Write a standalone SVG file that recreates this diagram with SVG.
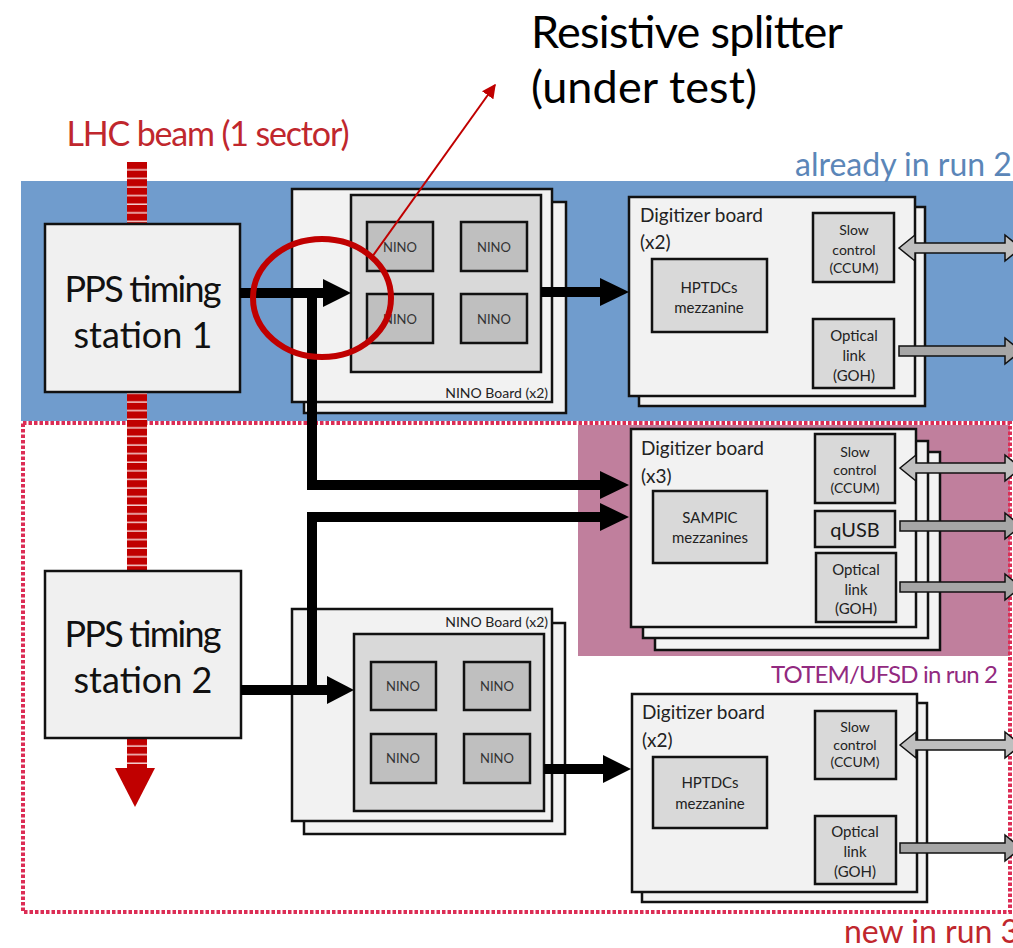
<svg xmlns="http://www.w3.org/2000/svg" width="1013" height="948" viewBox="0 0 1013 948">
  <style>
    text { font-family: Lato, "Open Sans", "Liberation Sans", sans-serif; fill: #1a1a1a; }
    .board { fill: #f2f2f2; stroke: #111; stroke-width: 2.5; }
    .sub { fill: #d9d9d9; stroke: #111; stroke-width: 2.5; }
    .chip { fill: #bfbfbf; stroke: #111; stroke-width: 2.5; }
    .station { fill: #f0f0f0; stroke: #111; stroke-width: 2.5; }
    .station-t { font-size: 36px; text-anchor: middle; fill: #111; }
    .nino-t { font-size: 13px; text-anchor: middle; fill: #333; }
    .nb-t { font-size: 14px; text-anchor: end; fill: #222; }
    .dig-t { font-size: 19px; fill: #222; }
    .box-t { font-size: 15px; text-anchor: middle; fill: #222; }
    .sc-t { font-size: 14px; text-anchor: middle; fill: #222; }
    .wire { fill: none; stroke: #000; stroke-width: 10; stroke-linejoin: miter; }
    .head { fill: #000; }
    .bidir { fill: #bfbfbf; stroke: #111; stroke-width: 1.5; }
    .uni { fill: #a6a6a6; stroke: #111; stroke-width: 1.5; }
  </style>
  <defs>
    <pattern id="beamFill" patternUnits="userSpaceOnUse" x="127" y="162" width="20" height="8.6">
      <rect width="20" height="8.6" fill="#c00000"/>
      <rect y="7.1" width="20" height="1.5" fill="#ffffff" opacity="0.8"/>
    </pattern>
    <marker id="redHead" viewBox="0 0 10 10" refX="9" refY="5" markerWidth="7" markerHeight="7" markerUnits="strokeWidth" orient="auto">
      <path d="M0,0 L10,5 L0,10 Z" fill="#c00000"/>
    </marker>
  </defs>

  <!-- background zones -->
  <rect x="21" y="181" width="992" height="240" fill="#709ccd"/>
  <rect x="578" y="425" width="432" height="231" fill="#c07f9d"/>
  <rect x="23" y="423" width="987" height="489" fill="none" stroke="#dc2d55" stroke-width="4" stroke-dasharray="3.5 2"/>

  <!-- zone labels -->
  <text x="208" y="146" font-size="34" text-anchor="middle" textLength="283" style="fill:#c0272d">LHC beam (1 sector)</text>
  <text x="795" y="176" font-size="32" style="fill:#5b86b8">already in run 2</text>
  <text x="771" y="683" font-size="24" textLength="227" style="fill:#922a80">TOTEM/UFSD in run 2</text>
  <text x="844" y="943" font-size="32" style="fill:#c0272d">new in run 3</text>
  <text x="531" y="48" font-size="45" textLength="312" style="fill:#000">Resistive splitter</text>
  <text x="531" y="103" font-size="45" textLength="226" style="fill:#000">(under test)</text>

  <!-- LHC beam -->
  <g id="beam">
    <rect x="127" y="162" width="20" height="606" fill="url(#beamFill)"/>
    <polygon points="115,768 155,768 135,807" fill="#c00000"/>
  </g>

  <!-- timing stations -->
  <g id="station1">
    <rect class="station" x="45" y="224" width="195" height="168"/>
    <text class="station-t" x="143" y="302" textLength="157">PPS timing</text>
    <text class="station-t" x="143" y="348">station 1</text>
  </g>
  <g id="station2">
    <rect class="station" x="45" y="571" width="196" height="167"/>
    <text class="station-t" x="143" y="647" textLength="157">PPS timing</text>
    <text class="station-t" x="143" y="693">station 2</text>
  </g>

  <!-- NINO boards -->
  <g id="nino1">
    <rect class="board" x="304" y="202" width="262" height="211"/>
    <rect class="board" x="292" y="189" width="260" height="213"/>
    <rect class="sub" x="351" y="195" width="190" height="177"/>
    <rect class="chip" x="367" y="222" width="66" height="49"/>
    <rect class="chip" x="461" y="222" width="66" height="49"/>
    <rect class="chip" x="367" y="294" width="66" height="49"/>
    <rect class="chip" x="461" y="294" width="66" height="49"/>
    <text class="nino-t" x="400" y="252">NINO</text>
    <text class="nino-t" x="494" y="252">NINO</text>
    <text class="nino-t" x="400" y="324">NINO</text>
    <text class="nino-t" x="494" y="324">NINO</text>
    <text class="nb-t" x="548" y="398">NINO Board (x2)</text>
  </g>
  <g id="nino2">
    <rect class="board" x="304" y="623" width="261" height="211"/>
    <rect class="board" x="292" y="609" width="260" height="212"/>
    <rect class="sub" x="354" y="634" width="190" height="177"/>
    <rect class="chip" x="371" y="662" width="65" height="48"/>
    <rect class="chip" x="464" y="662" width="66" height="48"/>
    <rect class="chip" x="371" y="734" width="65" height="49"/>
    <rect class="chip" x="464" y="734" width="66" height="49"/>
    <text class="nino-t" x="403" y="691">NINO</text>
    <text class="nino-t" x="497" y="691">NINO</text>
    <text class="nino-t" x="403" y="763">NINO</text>
    <text class="nino-t" x="497" y="763">NINO</text>
    <text class="nb-t" x="548" y="627">NINO Board (x2)</text>
  </g>

  <!-- digitizer boards -->
  <g id="digitizer1">
    <rect class="board" x="639" y="207" width="286" height="199"/>
    <rect class="board" x="629" y="197" width="286" height="199"/>
    <text class="dig-t" x="640" y="222">Digitizer board</text>
    <text class="dig-t" x="640" y="249">(x2)</text>
    <rect class="sub" x="652" y="259" width="115" height="73"/>
    <text class="box-t" x="709" y="293">HPTDCs</text>
    <text class="box-t" x="709" y="313">mezzanine</text>
    <rect class="sub" x="813" y="213" width="81" height="69"/>
    <text class="sc-t" x="854" y="235">Slow</text>
    <text class="sc-t" x="854" y="255">control</text>
    <text class="sc-t" x="854" y="273">(CCUM)</text>
    <rect class="sub" x="813" y="319" width="81" height="69"/>
    <text class="box-t" x="854" y="341">Optical</text>
    <text class="box-t" x="854" y="361">link</text>
    <text class="box-t" x="854" y="381">(GOH)</text>
  </g>
  <g id="digitizer2">
    <rect class="board" x="655" y="452" width="285" height="198"/>
    <rect class="board" x="643" y="441" width="285" height="197"/>
    <rect class="board" x="631" y="429" width="285" height="198"/>
    <text class="dig-t" x="641" y="455">Digitizer board</text>
    <text class="dig-t" x="641" y="483">(x3)</text>
    <rect class="sub" x="653" y="491" width="114" height="72"/>
    <text class="box-t" x="710" y="523">SAMPIC</text>
    <text class="box-t" x="710" y="543">mezzanines</text>
    <rect class="sub" x="815" y="434" width="80" height="69"/>
    <text class="sc-t" x="855" y="457">Slow</text>
    <text class="sc-t" x="855" y="475">control</text>
    <text class="sc-t" x="855" y="493">(CCUM)</text>
    <rect class="sub" x="815" y="511" width="80" height="36"/>
    <text x="855" y="537" font-size="20" text-anchor="middle">qUSB</text>
    <rect class="sub" x="816" y="553" width="80" height="69"/>
    <text class="box-t" x="856" y="575">Optical</text>
    <text class="box-t" x="856" y="595">link</text>
    <text class="box-t" x="856" y="614">(GOH)</text>
  </g>
  <g id="digitizer3">
    <rect class="board" x="642" y="703" width="285" height="199"/>
    <rect class="board" x="632" y="694" width="285" height="198"/>
    <text class="dig-t" x="642" y="719">Digitizer board</text>
    <text class="dig-t" x="642" y="747">(x2)</text>
    <rect class="sub" x="653" y="757" width="114" height="71"/>
    <text class="box-t" x="710" y="788">HPTDCs</text>
    <text class="box-t" x="710" y="809">mezzanine</text>
    <rect class="sub" x="815" y="711" width="81" height="68"/>
    <text class="sc-t" x="855" y="732">Slow</text>
    <text class="sc-t" x="855" y="750">control</text>
    <text class="sc-t" x="855" y="767">(CCUM)</text>
    <rect class="sub" x="815" y="816" width="81" height="68"/>
    <text class="box-t" x="855" y="837">Optical</text>
    <text class="box-t" x="855" y="857">link</text>
    <text class="box-t" x="855" y="877">(GOH)</text>
  </g>

  <!-- signal connectors -->
  <g id="connectors">
    <path class="wire" d="M240,293 H326"/>
    <polygon class="head" points="323,279 351,293 323,307"/>
    <path class="wire" d="M312,293 V485 H603"/>
    <polygon class="head" points="600,471 629,485 600,499"/>
    <path class="wire" d="M241,690 H329"/>
    <polygon class="head" points="327,676 354,690 327,704"/>
    <path class="wire" d="M312,690 V517 H603"/>
    <polygon class="head" points="600,503 629,517 600,531"/>
    <path class="wire" d="M541,292 H603"/>
    <polygon class="head" points="600,278 629,292 600,306"/>
    <path class="wire" d="M544,769 H605"/>
    <polygon class="head" points="603,755 631,769 603,783"/>

    <!-- external links -->
    <polygon class="bidir" points="899,248 915,235 915,243 1005,243 1005,235 1021,248 1005,261 1005,253 915,253 915,261"/>
    <polygon class="uni" points="899,346 1005,346 1005,338 1021,351 1005,364 1005,356 899,356"/>
    <polygon class="bidir" points="900,468 916,455 916,463 1005,463 1005,455 1021,468 1005,481 1005,473 916,473 916,481"/>
    <polygon class="uni" points="900,521 1005,521 1005,513 1021,526 1005,539 1005,531 900,531"/>
    <polygon class="uni" points="900,582 1005,582 1005,574 1021,587 1005,600 1005,592 900,592"/>
    <polygon class="bidir" points="900,745 916,732 916,740 1005,740 1005,732 1021,745 1005,758 1005,750 916,750 916,758"/>
    <polygon class="uni" points="900,843 1005,843 1005,835 1021,848 1005,861 1005,853 900,853"/>
  </g>

  <!-- splitter highlight -->
  <g id="splitter-note">
    <ellipse cx="322" cy="298" rx="69" ry="59" fill="none" stroke="#c00000" stroke-width="6"/>
    <line x1="372" y1="257" x2="495" y2="85" stroke="#c00000" stroke-width="2" marker-end="url(#redHead)"/>
  </g>
</svg>
